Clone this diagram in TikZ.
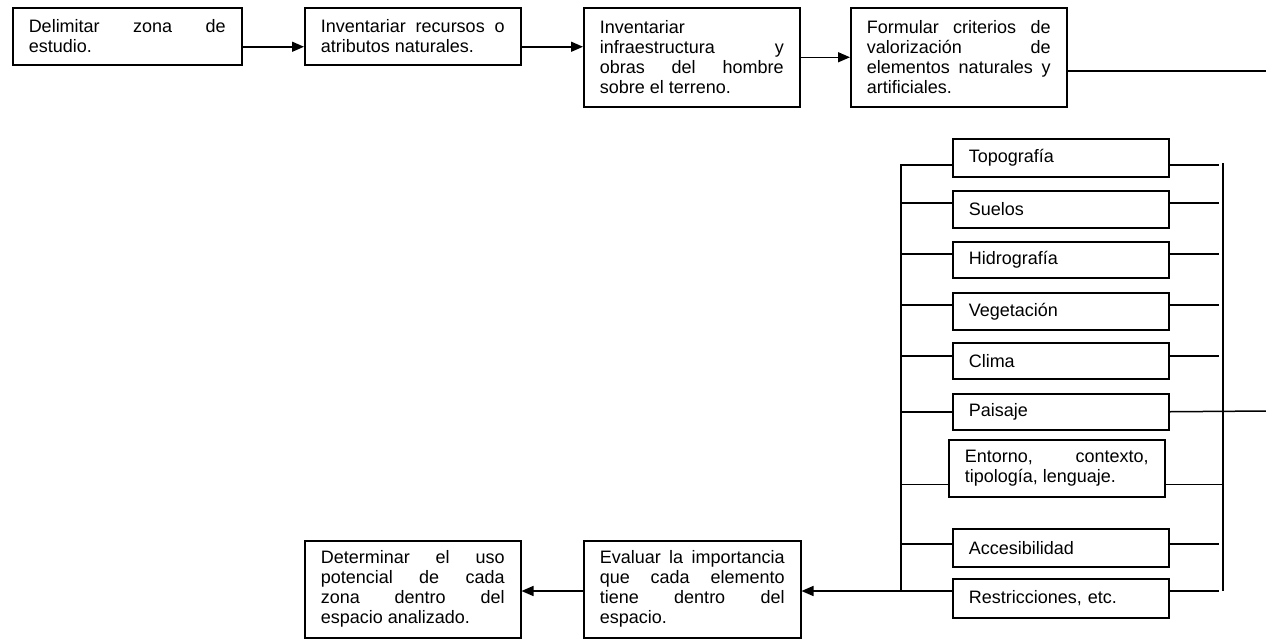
\documentclass[tikz,border=0pt]{standalone}
\usepackage{fontspec}
\setmainfont{Liberation Sans}
\usetikzlibrary{arrows.meta}

\begin{document}
\begin{tikzpicture}[x=1pt, y=-1pt, line width=1.5pt,
	stepbox/.style = {draw, anchor=north west, inner xsep=16pt, inner ysep=0pt, text width=184pt, align=justify,
		font=\fontsize{18}{20}\selectfont, execute at begin node={\tolerance=10000\hyphenpenalty=10000}},
	itembox/.style = {stepbox, minimum height=37pt, align=left},
	flow/.style = {-{Triangle[length=12pt, width=10pt]}}]
	\useasboundingbox (0,0) rectangle (1266,638);
	% top row
	\node[stepbox, text width=197pt, minimum height=57pt] (delim) at (12,7) {Delimitar zona de\linebreak estudio.};
	\node[stepbox, minimum height=57pt] (recu) at (304,7) {Inventariar recursos o\linebreak atributos naturales.};
	\node[stepbox, minimum height=99pt] (infra) at (583,7) {Inventariar\newline infraestructura y\linebreak obras del hombre\linebreak sobre el terreno.};
	\node[stepbox, minimum height=99pt] (crit) at (850,7) {Formular criterios de\linebreak valorización de\linebreak elementos naturales y\linebreak artificiales.};
	% elements
	\node[itembox, minimum height=38pt] (topo) at (952,138) {Topografía};
	\node[itembox] (suel) at (952,190) {Suelos};
	\node[itembox, minimum height=36pt] (hidr) at (952,241) {Hidrografía};
	\node[itembox] (vege) at (952,292) {Vegetación};
	\node[itembox, minimum height=36pt] (clim) at (952,342) {Clima};
	\node[itembox, minimum height=36pt] (pais) at (952,393) {Paisaje};
	\node[stepbox, minimum height=57pt] (ento) at (948,439) {Entorno, contexto,\linebreak tipología, lenguaje.};
	\node[itembox, minimum height=38pt] (acce) at (952,528) {Accesibilidad};
	\node[itembox, minimum height=39pt] (rest) at (952,578) {Restricciones, etc.};
	% bottom row
	\node[stepbox, text width=185pt, minimum height=97pt] (eval) at (583,540) {Evaluar la importancia\linebreak que cada elemento\linebreak tiene dentro del\linebreak espacio.};
	\node[stepbox, minimum height=97pt] (det) at (304,540) {Determinar el uso\linebreak potencial de cada\linebreak zona dentro del\linebreak espacio analizado.};
	% bus points
	\coordinate (lt) at (901,164);
	\coordinate (lb) at (901,591);
	\coordinate (rt) at (1223,163);
	\coordinate (rb) at (1223,591);
	\coordinate (rs) at (1219,0);
	\coordinate (out1) at (1266,71);
	\coordinate (out2) at (1266,411);
	% connectors
	\draw[flow] ([yshift=-10.5pt]delim.east) -- ([yshift=-10.5pt]delim.east -| recu.west);
	\draw[flow] ([yshift=-10.5pt]recu.east) -- ([yshift=-10.5pt]recu.east -| infra.west);
	\draw[flow] (infra.east) -- (crit.west);
	\draw (crit.east |- out1) -- (out1);
	\draw (lt) -- (lb);
	\draw (rt) -- (rb);
	\draw ([yshift=-7pt]topo.west) -- ([yshift=-7pt]topo.west -| lt);
	\draw ([yshift=6.5pt]suel.west) -- ([yshift=6.5pt]suel.west -| lt);
	\draw ([yshift=6pt]hidr.west) -- ([yshift=6pt]hidr.west -| lt);
	\draw ([yshift=6.5pt]vege.west) -- ([yshift=6.5pt]vege.west -| lt);
	\draw ([yshift=5pt]clim.west) -- ([yshift=5pt]clim.west -| lt);
	\draw (pais.west) -- (pais.west -| lt);
	\draw ([yshift=13pt]ento.south west) -- ([yshift=13pt]ento.south west -| lt);
	\draw ([yshift=4pt]acce.west) -- ([yshift=4pt]acce.west -| lt);
	\draw ([yshift=-7pt]topo.east) -- ([yshift=-7pt]topo.east -| rs);
	\draw ([yshift=6.5pt]suel.east) -- ([yshift=6.5pt]suel.east -| rs);
	\draw ([yshift=6pt]hidr.east) -- ([yshift=6pt]hidr.east -| rs);
	\draw ([yshift=6.5pt]vege.east) -- ([yshift=6.5pt]vege.east -| rs);
	\draw ([yshift=5pt]clim.east) -- ([yshift=5pt]clim.east -| rs);
	\draw (pais.east) -- (out2);
	\draw ([yshift=13pt]ento.south east) -- ([yshift=13pt]ento.south east -| rt);
	\draw ([yshift=4pt]acce.east) -- ([yshift=4pt]acce.east -| rs);
	\draw (rest.west |- lb) -- (lb);
	\draw (rest.east |- lb) -- (lb -| rs);
	\draw[flow] (lb) -- (lb -| eval.east);
	\draw[flow] (eval.west |- lb) -- (lb -| det.east);
\end{tikzpicture}
\end{document}
